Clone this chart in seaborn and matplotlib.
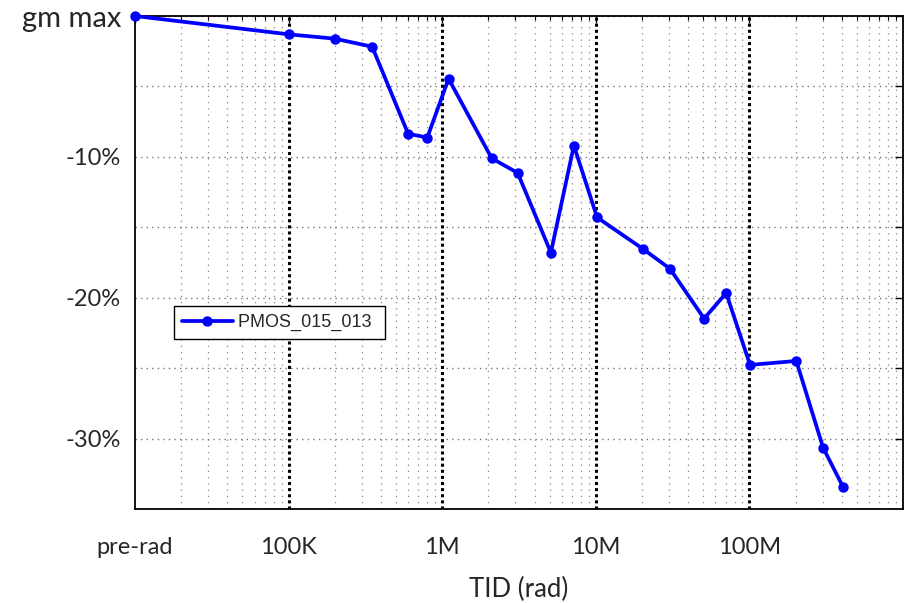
import matplotlib
matplotlib.use("Agg")
import matplotlib.pyplot as plt
import matplotlib.ticker as mticker
import seaborn as sns
import pandas as pd
import numpy as np

# data
dose = [1e4, 1e5, 2e5, 3.5e5, 6e5, 8e5, 1.1e6, 2.1e6, 3.1e6, 5.1e6, 7.2e6,
        1.02e7, 2.03e7, 3.04e7, 5.07e7, 7.06e7, 1.01e8, 2.02e8, 3.02e8, 4.07e8]
gm_change = [0, -1.30, -1.61, -2.18, -8.36, -8.63, -4.45, -10.1, -11.14, -16.8, -9.2,
             -14.3, -16.54, -17.94, -21.48, -19.67, -24.77, -24.49, -30.65, -33.43]
series_name = "PMOS_015_013"
xtick_vals = [1e4, 1e5, 1e6, 1e7, 1e8]
xtick_labels = ["pre-rad", "100K", "1M", "10M", "100M"]
ytick_vals = [0, -10, -20, -30]
ytick_labels = ["gm max", "-10%", "-20%", "-30%"]

df = pd.DataFrame({"TID": dose, "gm": gm_change, "series": series_name})

sns.set_style("white")
plt.rcParams['font.family'] = ['Lato', 'DejaVu Sans']

fig = plt.figure(figsize=(9.05, 6.03), dpi=100)
ax = fig.add_axes([135/905, 1-509/603, (903-135)/905, (509-16)/603])

sns.lineplot(data=df, x="TID", y="gm", hue="series", palette=["#0000ff"],
             marker="o", markersize=7.5, markeredgewidth=0, linewidth=2.7,
             ax=ax, clip_on=False, zorder=5)

ax.set_xscale("log")
ax.set_xlim(1e4, 1e9)
ax.set_ylim(-35, 0)

ax.set_xticks(xtick_vals)
ax.set_xticklabels(xtick_labels, fontsize=17)
ax.xaxis.set_minor_locator(mticker.LogLocator(base=10, subs=np.arange(2, 10)))
ax.xaxis.set_minor_formatter(mticker.NullFormatter())
ax.set_yticks(ytick_vals)
ax.set_yticklabels(ytick_labels, fontsize=17)
ax.yaxis.set_minor_locator(mticker.FixedLocator([-5, -15, -25]))
ax.get_yticklabels()[0].set_fontsize(21)

ax.tick_params(axis="both", which="both", direction="in", top=True, right=True,
               color="black")
ax.tick_params(axis="x", which="major", length=5, width=1, pad=20)
ax.tick_params(axis="x", which="minor", length=3, width=0.8)
ax.tick_params(axis="y", which="major", length=6, width=1, pad=10)
ax.tick_params(axis="y", which="minor", length=6, width=1)

# grids
for xv in xtick_vals[1:]:
    ax.axvline(xv, color="black", linestyle=(0, (1, 1)), linewidth=2.2, zorder=1)
ax.grid(True, axis="x", which="minor", color="#888888", linestyle=(0, (1, 4)), linewidth=0.9)
ax.grid(True, axis="y", which="both", color="#777777", linestyle=(0, (1, 3)), linewidth=1.0)

for s in ax.spines.values():
    s.set_visible(True)
    s.set_color("black")
    s.set_linewidth(1.3)

ax.set_xlabel("TID (rad)", fontsize=18.5, labelpad=14)
ax.set_ylabel("")

handles, labels = ax.get_legend_handles_labels()
labels = [l + " " for l in labels]
leg = ax.legend(handles, labels, loc="upper left",
                bbox_to_anchor=((174-135)/768, 1-(306-16)/493),
                frameon=True, fancybox=False, framealpha=1, edgecolor="black",
                prop={"family": "Liberation Sans", "size": 13},
                handlelength=2.8, borderpad=0.45, handletextpad=0.3, borderaxespad=0)
leg.get_frame().set_linewidth(1.0)

fig.savefig("out.png", dpi=100)
